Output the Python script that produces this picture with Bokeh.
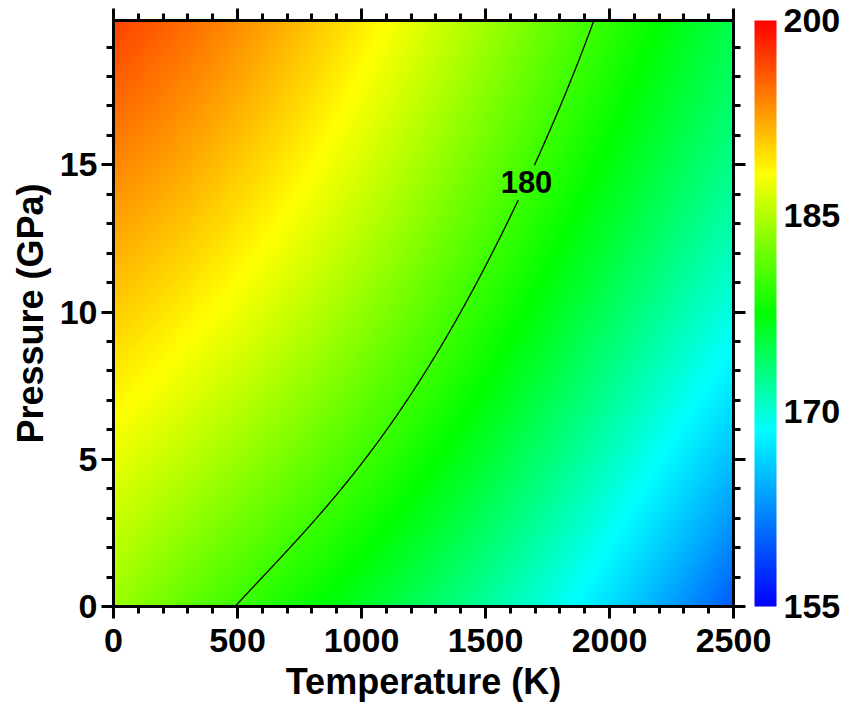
import numpy as np
import contourpy
from bokeh.plotting import figure
from bokeh.models import (LinearColorMapper, ColorBar, LinearAxis, SingleIntervalTicker,
                          FixedTicker, Range1d, CustomLabelingPolicy)
from bokeh.embed import file_html
from bokeh.resources import INLINE
from bokeh.core.properties import value

# Field values at the grid nodes (rows: pressure, columns: temperature)
temperature_K = [0, 500, 1000, 1500, 2000, 2500]
pressure_GPa = [0, 5, 10, 15, 20]
field_values = [
    [184.0, 180.0, 176.0, 171.7, 166.8, 159.5],   # P = 0 GPa
    [187.4, 183.9, 180.4, 175.8, 171.0, 165.2],   # P = 5 GPa
    [190.6, 187.5, 184.0, 179.3, 174.3, 169.5],   # P = 10 GPa
    [193.8, 190.4, 186.4, 181.3, 176.7, 172.4],   # P = 15 GPa
    [197.0, 193.5, 189.5, 184.5, 179.6, 175.0],   # P = 20 GPa
]
contour_levels = [180]
contour_label_pressure = 14.4
colorbar_ticks = [155, 170, 185, 200]
color_low, color_high = 155, 200

FONT = "Liberation Sans"
T_MIN, T_MAX = 0, 2500
P_MIN, P_MAX = 0, 19.9
FRAME_W, FRAME_H = 620, 586


# Smooth surface through the grid: least-squares polynomial, cubic in T, quadratic in P
def basis(t, pr):
    t = np.asarray(t, float) / 2500.0
    pr = np.asarray(pr, float) / 20.0
    return np.column_stack([t ** i * pr ** j for i in range(4) for j in range(3)])


TG, PG = np.meshgrid(temperature_K, pressure_GPa)
coef, *_ = np.linalg.lstsq(basis(TG.ravel(), PG.ravel()),
                           np.asarray(field_values, float).ravel(), rcond=None)


def smooth_field(t, pr):
    tg, pg = np.meshgrid(t, pr)
    return (basis(tg.ravel(), pg.ravel()) @ coef).reshape(tg.shape)


# Heat-map raster, one cell per screen pixel
tc = T_MIN + (np.arange(FRAME_W) + 0.5) * (T_MAX - T_MIN) / FRAME_W
pc = P_MIN + (np.arange(FRAME_H) + 0.5) * (P_MAX - P_MIN) / FRAME_H
Z = smooth_field(tc, pc).astype(np.float32)

# Rainbow palette: blue -> cyan -> green -> yellow -> red
anchors = [(0.0, (0, 0, 255)), (0.30, (0, 255, 255)), (0.50, (0, 255, 0)),
           (0.74, (255, 255, 0)), (1.0, (255, 0, 0))]
pos = np.array([a[0] for a in anchors])
rgb = np.array([a[1] for a in anchors], float)
f = np.linspace(0, 1, 256)
palette = ["#%02x%02x%02x" % tuple(int(round(np.interp(v, pos, rgb[:, k]))) for k in range(3))
           for v in f]
mapper = LinearColorMapper(palette=palette, low=color_low, high=color_high)

p = figure(frame_width=FRAME_W, frame_height=FRAME_H,
           x_range=Range1d(T_MIN, T_MAX), y_range=Range1d(P_MIN, P_MAX),
           output_backend="svg", toolbar_location=None,
           min_border_left=113, min_border_top=20, min_border_bottom=100, min_border_right=10)
p.grid.visible = False
p.outline_line_color = "black"
p.outline_line_width = 3
p.background_fill_color = None
p.border_fill_color = "white"

p.image(image=[Z], x=T_MIN, y=P_MIN, dw=T_MAX - T_MIN, dh=P_MAX - P_MIN, color_mapper=mapper)

# Contour line computed on a fine grid, with a gap left for its label
tf = np.linspace(T_MIN, T_MAX, 401)
pf = np.linspace(P_MIN, P_MAX, 321)
Zf = smooth_field(tf, pf)
gen = contourpy.contour_generator(tf, pf, Zf)
half_w = 27 * (T_MAX - T_MIN) / FRAME_W
half_h = 16 * (P_MAX - P_MIN) / FRAME_H
for level in contour_levels:
    xs, ys = [], []
    label_pt = None
    for seg in gen.lines(level):
        order = np.argsort(seg[:, 1])
        t_lab = float(np.interp(contour_label_pressure, seg[order, 1], seg[order, 0]))
        label_pt = (t_lab, contour_label_pressure)
        inside = (np.abs(seg[:, 0] - t_lab) < half_w) & (np.abs(seg[:, 1] - contour_label_pressure) < half_h)
        cur_x, cur_y = [], []
        for (tx, py), hide in zip(seg, inside):
            if hide:
                if len(cur_x) > 1:
                    xs.append(cur_x)
                    ys.append(cur_y)
                cur_x, cur_y = [], []
            else:
                cur_x.append(float(tx))
                cur_y.append(float(py))
        if len(cur_x) > 1:
            xs.append(cur_x)
            ys.append(cur_y)
    p.multi_line(xs=xs, ys=ys, line_color="black", line_width=1.3)
    if label_pt is not None:
        p.text(x=[label_pt[0]], y=[label_pt[1]], text=["%g" % level],
               text_align="center", text_baseline="middle",
               text_font=value(FONT), text_font_style="bold", text_font_size="31px",
               text_color="black")


def style_axis(ax, show_labels=True):
    ax.axis_line_width = 3
    ax.axis_line_color = "black"
    ax.major_tick_line_width = 3
    ax.minor_tick_line_width = 3
    ax.major_tick_out = 12
    ax.major_tick_in = 0
    ax.minor_tick_out = 7
    ax.minor_tick_in = 0
    ax.major_label_text_font = FONT
    ax.major_label_text_font_style = "bold"
    ax.major_label_text_font_size = "34px"
    ax.major_label_text_color = "black"
    ax.axis_label_text_font = FONT
    ax.axis_label_text_font_style = "bold"
    ax.axis_label_text_font_size = "36px"
    ax.axis_label_text_color = "black"
    if not show_labels:
        # tick marks only: every label is filtered out
        ax.major_label_text_font_size = "1px"
        ax.major_label_policy = CustomLabelingPolicy(
            code="for (const i of indices) { indices.unset(i) }\nreturn indices")


p.xaxis.ticker = SingleIntervalTicker(interval=500, num_minor_ticks=5)
p.yaxis.ticker = SingleIntervalTicker(interval=5, num_minor_ticks=5)
p.xaxis.axis_label = "Temperature (K)"
p.yaxis.axis_label = "Pressure (GPa)"
style_axis(p.xaxis[0])
style_axis(p.yaxis[0])
p.xaxis[0].major_label_standoff = 10
p.yaxis[0].major_label_standoff = 4
p.xaxis[0].axis_label_standoff = 6
p.yaxis[0].axis_label_standoff = 6

top_ax = LinearAxis(ticker=SingleIntervalTicker(interval=500, num_minor_ticks=5))
style_axis(top_ax, show_labels=False)
top_ax.major_label_standoff = 0
p.add_layout(top_ax, "above")
right_ax = LinearAxis(ticker=SingleIntervalTicker(interval=5, num_minor_ticks=5))
style_axis(right_ax, show_labels=False)
right_ax.major_label_standoff = 5
p.add_layout(right_ax, "right")

cb = ColorBar(color_mapper=mapper, ticker=FixedTicker(ticks=colorbar_ticks),
              width=22, height=FRAME_H, location="top_left", margin=0, padding=0,
              major_tick_line_color=None, minor_tick_line_color=None, bar_line_color=None,
              major_label_text_font=FONT, major_label_text_font_style="bold",
              major_label_text_font_size="34px", major_label_text_color="black",
              label_standoff=7, background_fill_color=None, border_line_color=None)
p.add_layout(cb, "right")

open("out.html", "w").write(file_html(p, INLINE))
